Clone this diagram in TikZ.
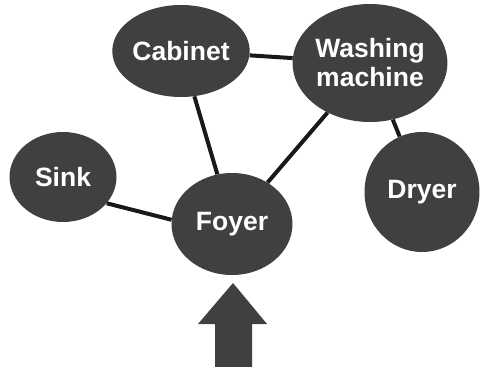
\documentclass[tikz,border=0pt]{standalone}
\usepackage{fontspec}
\setmainfont{Liberation Sans}
\usetikzlibrary{shapes.geometric}

\begin{document}
\begin{tikzpicture}[x=1pt,y=-1pt,
 room/.style={ellipse,fill=black!75,inner sep=0pt,text=white,align=center,font=\fontsize{26.5}{29}\selectfont\bfseries},
 link/.style={line width=4pt,draw=black!90}]
\useasboundingbox[fill=white] (0,0) rectangle (493,367);
\node[room,minimum width=107pt,minimum height=92pt] (cabinet) at (181,51) {Cabinet};
\node[room,minimum width=126pt,minimum height=118pt] (washer) at (370,63) {Washing\\machine};
\node[room,minimum width=107pt,minimum height=90pt] (sink) at (63,177) {Sink};
\node[room,minimum width=121pt,minimum height=102pt] (foyer) at (232,224) {Foyer};
\node[room,minimum width=115pt,minimum height=120pt] (dryer) at (422,192) {Dryer};

\draw[link] (cabinet)--(washer);
\draw[link] (cabinet)--(foyer);
\draw[link] (washer)--(foyer);
\draw[link] (washer)--(dryer);
\draw[link] (sink.-31)--(foyer.176);
\fill[black!75] (233,283)--(267,324)--(252,324)--(252,367)--(215,367)--(215,324)--(198,324)--cycle;
\end{tikzpicture}
\end{document}
